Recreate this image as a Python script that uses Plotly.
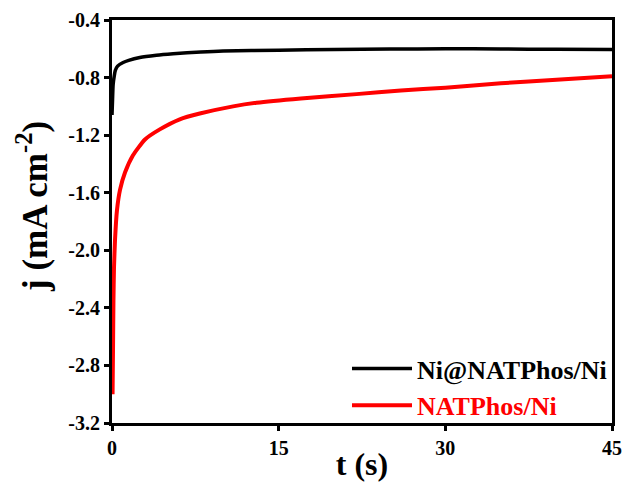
import plotly.graph_objects as go

t_black = [0, 0.05, 0.1, 0.2, 0.3, 0.5, 1.0, 1.5, 2.5, 4.0, 5.5, 8.0, 10, 15, 20, 25, 30, 35, 40, 45]
j_black = [-1.06, -0.95, -0.85, -0.79, -0.75, -0.72, -0.695, -0.68, -0.66, -0.645, -0.635, -0.622, -0.615, -0.61, -0.605, -0.602, -0.6, -0.601, -0.604, -0.605]

t_red = [0.05, 0.09, 0.13, 0.18, 0.27, 0.45, 0.72, 1.17, 1.89, 2.97, 4.3, 6.1, 7.9, 10.9, 13, 17, 22, 26, 30, 35, 40, 45]
j_red = [-3.0, -2.7, -2.35, -2.12, -1.93, -1.72, -1.58, -1.46, -1.34, -1.23, -1.16, -1.09, -1.05, -1.0, -0.975, -0.945, -0.915, -0.89, -0.87, -0.84, -0.815, -0.79]

names = ["Ni@NATPhos/Ni", "NATPhos/Ni"]
colors = ["#000000", "#ff0000"]

x_ticks = [0, 15, 30, 45]
y_ticks = [-3.2, -2.8, -2.4, -2.0, -1.6, -1.2, -0.8, -0.4]

x_title = "<b>t (s)</b>"
y_title = "<b>j (mA cm<sup>-2</sup>)</b>"

font_family = "Liberation Serif"

fig = go.Figure()
fig.add_trace(go.Scatter(x=t_black, y=j_black, mode="lines",
                         line=dict(color=colors[0], width=3.5, shape="spline", smoothing=0.5),
                         name=f"<span style='color:{colors[0]}'><b>{names[0]}</b></span>"))
fig.add_trace(go.Scatter(x=t_red, y=j_red, mode="lines",
                         line=dict(color=colors[1], width=4, shape="spline", smoothing=0.5),
                         name=f"<span style='color:{colors[1]}'><b>{names[1]}</b></span>"))

axis_common = dict(showline=True, linecolor="black", linewidth=3, mirror=True,
                   ticks="outside", ticklen=5, tickwidth=3, tickcolor="black",
                   showgrid=False, zeroline=False, automargin=False,
                   tickfont=dict(family=font_family, size=20, color="black"))

fig.update_xaxes(range=[0, 45], tickvals=x_ticks,
                 ticktext=[f"<b>{v}</b>" for v in x_ticks],
                 title=dict(text=x_title, font=dict(family=font_family, size=32, color="black"),
                            standoff=0),
                 **axis_common)
fig.update_yaxes(range=[-3.2, -0.4], tickvals=y_ticks,
                 ticktext=[f"<b>{v:.1f}</b>" for v in y_ticks],
                 **axis_common)

fig.add_annotation(text=y_title, xref="paper", yref="paper", x=-0.158, y=0.536,
                   xanchor="center", yanchor="middle", textangle=-90, showarrow=False,
                   font=dict(family=font_family, size=35, color="black"))

fig.update_layout(
    width=626, height=482,
    margin=dict(l=112, r=14, t=20, b=59),
    plot_bgcolor="white", paper_bgcolor="white",
    font=dict(family=font_family, color="black"),
    legend=dict(x=1, xanchor="right", y=-0.015, yanchor="bottom",
                bgcolor="rgba(0,0,0,0)", borderwidth=0,
                font=dict(family=font_family, size=26),
                itemwidth=60, tracegroupgap=0),
)

fig.write_html("out.html")
